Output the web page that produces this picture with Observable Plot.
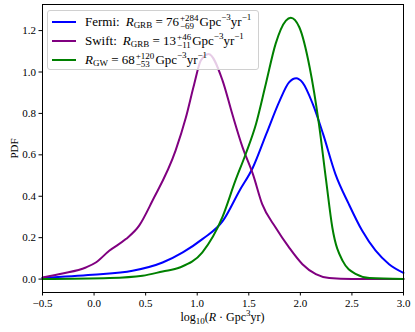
<!DOCTYPE html>
<html>
<head>
<meta charset="utf-8">
<script src="https://cdn.jsdelivr.net/npm/d3@7"></script>
<script src="https://cdn.jsdelivr.net/npm/@observablehq/plot@0.6"></script>
<style>
  body { margin: 0; background: #fff; }
  #wrap { position: relative; width: 415px; height: 332px; font-family: "Liberation Serif", "DejaVu Serif", serif; }
  #legend { position: absolute; left: 47px; top: 10px; width: 212px; height: 60px; border: 1px solid #d0d0d0; border-radius: 3px; background: rgba(255,255,255,0.8); box-sizing: border-box; }
  .row { position: absolute; left: 0; height: 20px; display: flex; align-items: center; font-size: 13px; white-space: nowrap; color: #000; }
  .swatch { width: 24px; height: 0; border-top: 2px solid; margin-left: 4px; margin-right: 9px; }
  .gap { display: inline-block; width: 6px; }
  .stack { display: inline-flex; flex-direction: column; font-size: 9px; line-height: 8.5px; vertical-align: middle; margin: 0 1px; }
  .sup { font-size: 9px; position: relative; top: -5px; }
  .sub { font-size: 9px; position: relative; top: 3px; }
  #xlabel { position: absolute; left: 0; width: 445px; top: 310px; text-align: center; font-size: 12px; }
</style>
</head>
<body>
<div id="wrap"></div>
<script>
// Fermi (blue)
const fermiX = [-0.5, -0.015, 0.373, 0.664, 0.86, 1.05, 1.25, 1.41, 1.54, 1.67, 1.8, 1.89, 1.96, 2.02, 2.12, 2.22, 2.34, 2.47, 2.6, 2.73, 2.86, 3.0];
const fermiY = [0.006, 0.021, 0.040, 0.08, 0.129, 0.193, 0.282, 0.427, 0.539, 0.701, 0.862, 0.95, 0.97, 0.95, 0.846, 0.701, 0.507, 0.362, 0.233, 0.137, 0.072, 0.03];
// Swift (purple)
const swiftX = [-0.5, -0.306, -0.08, 0.017, 0.147, 0.308, 0.437, 0.566, 0.79, 0.89, 0.97, 1.035, 1.11, 1.245, 1.34, 1.44, 1.54, 1.63, 1.76, 1.89, 2.02, 2.15, 2.28, 2.5, 3.0];
const swiftY = [0.008, 0.027, 0.056, 0.08, 0.137, 0.193, 0.258, 0.378, 0.62, 0.78, 0.94, 1.055, 1.087, 0.96, 0.797, 0.636, 0.507, 0.362, 0.249, 0.153, 0.072, 0.024, 0.005, 0.0, 0.0];
// GW (green)
const gwX = [-0.5, 0.15, 0.47, 0.664, 0.83, 1.05, 1.245, 1.37, 1.47, 1.57, 1.665, 1.76, 1.86, 1.907, 1.99, 2.09, 2.18, 2.25, 2.31, 2.41, 2.54, 2.67, 3.0];
const gwY = [0.0, 0.005, 0.016, 0.037, 0.056, 0.129, 0.3, 0.475, 0.604, 0.749, 0.942, 1.136, 1.248, 1.262, 1.216, 1.023, 0.749, 0.475, 0.249, 0.088, 0.024, 0.005, 0.0];

const xTicks = [-0.5, 0.0, 0.5, 1.0, 1.5, 2.0, 2.5, 3.0];
const yTicks = [0.0, 0.2, 0.4, 0.6, 0.8, 1.0, 1.2];

const series = [
  {name: "Fermi", xs: fermiX, ys: fermiY, color: "#0000ff"},
  {name: "Swift", xs: swiftX, ys: swiftY, color: "#800080"},
  {name: "GW", xs: gwX, ys: gwY, color: "#008000"}
];

const chart = Plot.plot({
  width: 415,
  height: 332,
  marginLeft: 42,
  marginRight: 12,
  marginTop: 4,
  marginBottom: 40,
  style: {fontFamily: "Liberation Serif, DejaVu Serif, serif", fontSize: "11px", color: "#000", background: "#fff"},
  x: {domain: [-0.5, 3.0], ticks: xTicks, tickFormat: d3.format(".1f"), tickSize: 3.5, tickPadding: 3, label: null},
  y: {domain: [-0.0648, 1.326], ticks: yTicks, tickFormat: d3.format(".1f"), tickSize: 3.5, tickPadding: 3, label: "PDF", labelAnchor: "center", labelOffset: 32, labelArrow: "none"},
  marks: [
    ...series.map(s => Plot.line(s.xs.map((x, i) => ({x, y: s.ys[i]})), {x: "x", y: "y", stroke: s.color, strokeWidth: 2, curve: "monotone-x"})),
    Plot.frame({stroke: "#000", strokeWidth: 1})
  ]
});
const wrap = document.getElementById("wrap");
wrap.appendChild(chart);

const legend = document.createElement("div");
legend.id = "legend";
legend.innerHTML = `
<div class="row" style="top:1px"><span class="swatch" style="border-color:#0000ff"></span>Fermi:<span class="gap"></span><i>R</i><span class="sub">GRB</span>&nbsp;= 76<span class="stack"><span>+284</span><span>−69</span></span>Gpc<span class="sup">−3</span>yr<span class="sup">−1</span></div>
<div class="row" style="top:20px"><span class="swatch" style="border-color:#800080"></span>Swift:<span class="gap"></span><i>R</i><span class="sub">GRB</span>&nbsp;= 13<span class="stack"><span>+46</span><span>−11</span></span>Gpc<span class="sup">−3</span>yr<span class="sup">−1</span></div>
<div class="row" style="top:39px"><span class="swatch" style="border-color:#008000"></span><i>R</i><span class="sub">GW</span>&nbsp;= 68<span class="stack"><span>+120</span><span>−53</span></span>Gpc<span class="sup">−3</span>yr<span class="sup">−1</span></div>`;
wrap.appendChild(legend);

const xl = document.createElement("div");
xl.id = "xlabel";
xl.innerHTML = `log<span class="sub">10</span>(<i>R</i> · Gpc<span class="sup">3</span>yr)`;
wrap.appendChild(xl);
</script>
</body>
</html>
